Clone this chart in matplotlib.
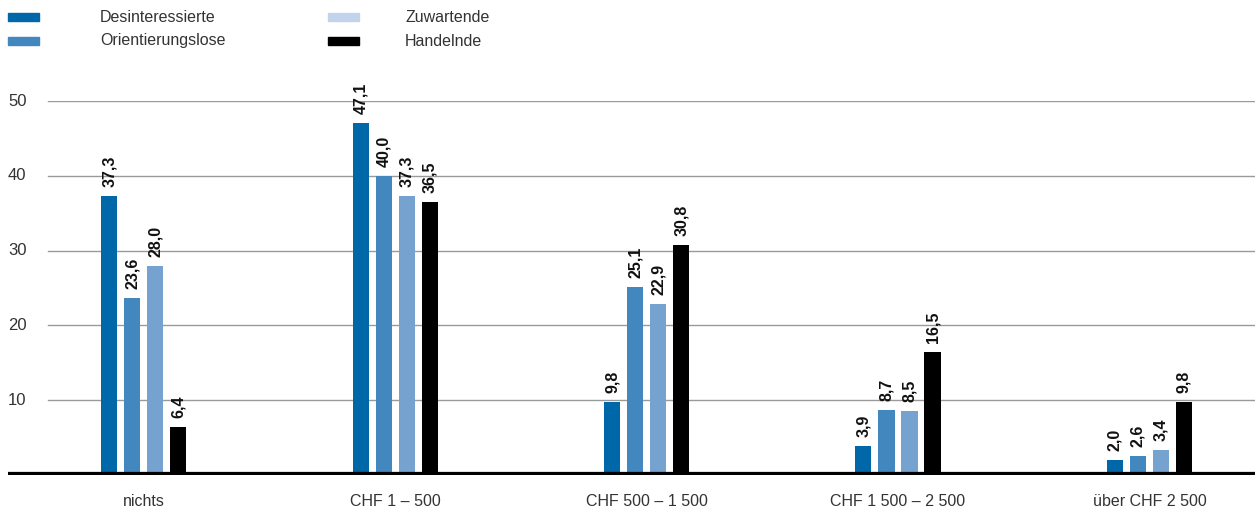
import matplotlib.pyplot as plt
from matplotlib.patches import Rectangle
import numpy as np

plt.rcParams['font.family'] = ['Liberation Sans', 'DejaVu Sans']

# Data
categories = ["nichts", "CHF 1 – 500", "CHF 500 – 1 500", "CHF 1 500 – 2 500", "über CHF 2 500"]
series_names = ["Desinteressierte", "Orientierungslose", "Zuwartende", "Handelnde"]
desinteressierte = [37.3, 47.1, 9.8, 3.9, 2.0]
orientierungslose = [23.6, 40.0, 25.1, 8.7, 2.6]
zuwartende = [28.0, 37.3, 22.9, 8.5, 3.4]
handelnde = [6.4, 36.5, 30.8, 16.5, 9.8]
yticks = [10, 20, 30, 40, 50]

series = [desinteressierte, orientierungslose, zuwartende, handelnde]
bar_colors = ['#0068a8', '#4387bf', '#75a2cf', '#000000']
legend_colors = ['#0068a8', '#4387bf', '#c2d4ec', '#000000']

W, H = 1255, 515
fig = plt.figure(figsize=(W / 100, H / 100), dpi=100)
ax = fig.add_axes([8 / W, 40 / H, 1 - 8 / W, 374 / H])

x = np.arange(len(categories))
step = 0.0916
width = 0.064
for i, (vals, col) in enumerate(zip(series, bar_colors)):
    pos = x + (i - 1.5) * step
    ax.bar(pos, vals, width=width, color=col, zorder=3)
    for xp, v in zip(pos, vals):
        ax.annotate(f"{v:.1f}".replace('.', ','), (xp, v), xytext=(0, 6.5),
                    textcoords='offset points', rotation=90, ha='center', va='bottom',
                    fontsize=11.5, fontweight='bold', color='#111111', annotation_clip=False)

ax.set_xlim(-0.54, 4.42)
ax.set_ylim(0, 50)

# gridlines starting a bit right of the tick labels
xmin_frac = 40 / (W - 8)
for t in yticks:
    ax.axhline(t, xmin=xmin_frac, xmax=1, color='#9a9a9a', lw=1, zorder=1)
    ax.text(0, t, str(t), transform=ax.get_yaxis_transform(), ha='left', va='center',
            fontsize=12, color='#333333')
ax.axhline(0, color='#000000', lw=4.5, zorder=4)

ax.set_xticks(x)
ax.set_xticklabels(categories, fontsize=11.5, color='#333333')
ax.tick_params(axis='x', length=0, pad=14)
ax.set_yticks([])
for s in ax.spines.values():
    s.set_visible(False)

# legend drawn manually
legend_pos = [(8, 100, 17), (8, 100, 41), (328, 405, 17), (328, 405, 41)]
for (px, tx, py), name, col in zip(legend_pos, series_names, legend_colors):
    fig.patches.append(Rectangle((px / W, 1 - (py + 4) / H), 31 / W, 8 / H,
                                 transform=fig.transFigure, color=col))
    fig.text(tx / W, 1 - py / H, name, ha='left', va='center', fontsize=11.5, color='#333333')

fig.savefig('out.png', dpi=100)
